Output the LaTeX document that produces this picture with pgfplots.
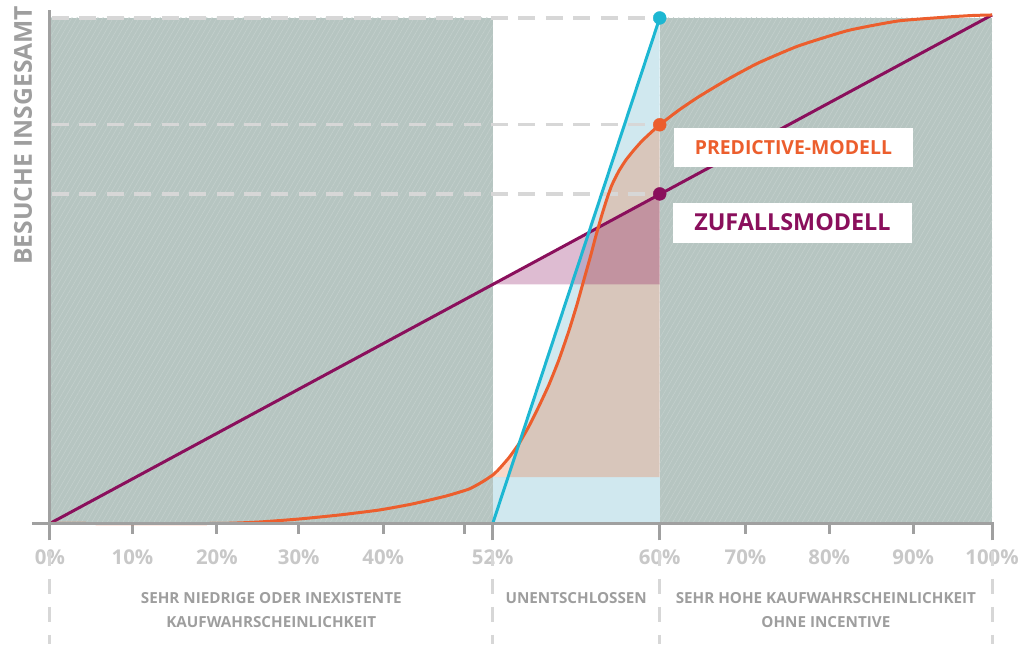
\documentclass[border=0pt]{standalone}
\usepackage{pgfplots}
\pgfplotsset{compat=1.18}
\usepackage{pgfplotstable}
\usepackage{fontspec}
\setmainfont{Open Sans}
\usetikzlibrary{patterns.meta}
\definecolor{grayg}{RGB}{182,197,193}
\definecolor{hatch}{RGB}{195,207,204}
\definecolor{lblue}{RGB}{208,232,239}
\definecolor{cblue}{RGB}{29,183,210}
\definecolor{corange}{RGB}{236,94,45}
\definecolor{ctan}{RGB}{240,110,50}
\definecolor{cpurple}{RGB}{138,15,92}
\definecolor{axgray}{RGB}{160,160,160}
\definecolor{labgray}{RGB}{158,158,158}
\definecolor{tickgray}{RGB}{200,200,200}
\definecolor{dashgray}{RGB}{215,215,215}

% predictive model (orange), x in px-position units, y = height above x axis
\pgfplotstableread{
x y
50 0
217 0
260 1.5
300 4.5
340 8.5
380 13.5
413 19.5
447 27.5
470 34.5
483 41.5
493.7 48.5
500 54.5
510 66
520 80
530 97.5
540 117.5
550 139
560 164
570 193
578 219
585 244
592 269
597 288
603 309
608 325
613 339
620 353
627 364
635 374
643 383
652 391.5
661 399.5
680 414
700 427.5
730 445.5
760 461.5
800 478.5
850 494
900 503.5
950 507.5
975 509
994 509.5
}\orangedata

% tan area right of the predictive curve
\pgfplotstableread{
x y
493.7 46.5
493.7 48.5
500 54.5
510 66
520 80
530 97.5
540 117.5
550 139
560 164
570 193
578 219
585 244
592 269
597 288
603 309
608 325
613 339
620 353
627 364
635 374
643 383
652 391.5
661 399.5
661 46.5
}\tandata

\begin{document}
\begin{tikzpicture}
\begin{axis}[
  scale only axis, width=944bp, height=514.5bp,
  xmin=50, xmax=994, ymin=0, ymax=514.5,
  clip=false,
  axis x line*=bottom, axis y line=none,
  x axis line style={draw=none},
  xtick={50,132.7,217.3,299.3,384,465.7,493.7,661,746.9,830.9,915,994},
  xticklabels={0\%,10\%,20\%,30\%,40\%,,52\%,60\%,70\%,80\%,90\%,100\%},
  ytick=\empty,
  major tick length=10.5bp, tick align=outside,
  tick style={axgray, line width=3bp},
  extra x ticks={50,493.7,661,994}, extra x tick labels={},
  extra x tick style={major tick length=17bp},
  xticklabel style={font=\bfseries\fontsize{20.5}{21}\selectfont, text=tickgray, anchor=center, yshift=-23bp},
]
% background zones
\addplot[draw=none, fill=grayg] coordinates {(50,0) (493.7,0) (493.7,506.5) (50,506.5)};
\addplot[draw=none, fill=grayg] coordinates {(661,0) (994,0) (994,506.5) (661,506.5)};
\addplot[draw=none, pattern={Lines[angle=60,distance=4.5bp,line width=0.6bp]}, pattern color=hatch] coordinates {(50,0) (493.7,0) (493.7,506.5) (50,506.5)};
\addplot[draw=none, pattern={Lines[angle=60,distance=4.5bp,line width=0.6bp]}, pattern color=hatch] coordinates {(661,0) (994,0) (994,506.5) (661,506.5)};
% light blue areas
\addplot[draw=none, fill=lblue] coordinates {(493.7,0) (661,506.5) (661,0)};
\addplot[draw=none, fill=lblue] coordinates {(493.7,0) (493.7,46.5) (661,46.5) (661,0)};
% tan area
\addplot[draw=none, fill=ctan, fill opacity=0.27] table {\tandata};
% purple triangle
\addplot[draw=none, fill=cpurple, fill opacity=0.28] coordinates {(493.7,239.6) (661,330.2) (661,239.6)};
% dashed guides
\addplot[dashgray, line width=3.5bp, dash pattern=on 17bp off 10.5bp] coordinates {(52,506.5) (661,506.5)};
\addplot[dashgray, line width=3.5bp, dash pattern=on 17bp off 10.5bp] coordinates {(52,399.5) (661,399.5)};
\addplot[dashgray, line width=3.5bp, dash pattern=on 17bp off 10.5bp] coordinates {(52,330.2) (661,330.2)};
% lines
\addplot[cpurple, line width=3bp] coordinates {(50,0) (994,509.5)};
\addplot[corange, line width=3bp, smooth, tension=0.3] table {\orangedata};
\addplot[cblue, line width=3bp] coordinates {(493.7,0) (661,506.5)};
% dots
\addplot[only marks, mark=*, mark size=6.5bp, cblue, mark options={draw=cblue, fill=cblue}] coordinates {(661,506.5)};
\addplot[only marks, mark=*, mark size=6.5bp, corange, mark options={draw=corange, fill=corange}] coordinates {(661,399.5)};
\addplot[only marks, mark=*, mark size=6.5bp, cpurple, mark options={draw=cpurple, fill=cpurple}] coordinates {(661,330.2)};
% axes
\draw[axgray, line width=3bp] (axis cs:32,0) -- (axis cs:996,0);
\draw[axgray, line width=3bp] (axis cs:50,0) -- (axis cs:50,514.5);
% legend boxes
\node[fill=white, minimum width=240bp, minimum height=39bp, inner sep=0pt, text=corange, font=\bfseries\fontsize{19.5}{20}\selectfont] at (axis cs:795,377) {PREDICTIVE-MODELL};
\node[fill=white, minimum width=240bp, minimum height=40bp, inner sep=0pt, text=cpurple, font=\bfseries\fontsize{23.5}{24}\selectfont] at (axis cs:794,301.5) {ZUFALLSMODELL};
% y label
\node[rotate=90, text=labgray, font=\bfseries\fontsize{24.8}{25}\selectfont] at (axis cs:23,389) {BESUCHE INSGESAMT};
% zone separators
\draw[dashgray, line width=3bp, dash pattern=on 15bp off 13bp] (axis cs:50,-27.5) -- (axis cs:50,-120.5);
\draw[dashgray, line width=3bp, dash pattern=on 15bp off 13bp] (axis cs:493.7,-27.5) -- (axis cs:493.7,-120.5);
\draw[dashgray, line width=3bp, dash pattern=on 15bp off 13bp] (axis cs:661,-27.5) -- (axis cs:661,-120.5);
\draw[dashgray, line width=3bp, dash pattern=on 15bp off 13bp] (axis cs:994,-27.5) -- (axis cs:994,-120.5);
% zone labels
\node[text=labgray, font=\bfseries\fontsize{15.3}{15}\selectfont] at (axis cs:271.8,-74.5) {SEHR NIEDRIGE ODER INEXISTENTE};
\node[text=labgray, font=\bfseries\fontsize{15.3}{15}\selectfont] at (axis cs:271.8,-98.5) {KAUFWAHRSCHEINLICHKEIT};
\node[text=labgray, font=\bfseries\fontsize{15.3}{15}\selectfont] at (axis cs:577.3,-74.5) {UNENTSCHLOSSEN};
\node[text=labgray, font=\bfseries\fontsize{15.3}{15}\selectfont] at (axis cs:827.5,-74.5) {SEHR HOHE KAUFWAHRSCHEINLICHKEIT};
\node[text=labgray, font=\bfseries\fontsize{15.3}{15}\selectfont] at (axis cs:827.5,-98.5) {OHNE INCENTIVE};
% bounding box
\path[use as bounding box] (axis cs:0,-120.5) rectangle (axis cs:1022,524.5);
\end{axis}
\end{tikzpicture}
\end{document}
